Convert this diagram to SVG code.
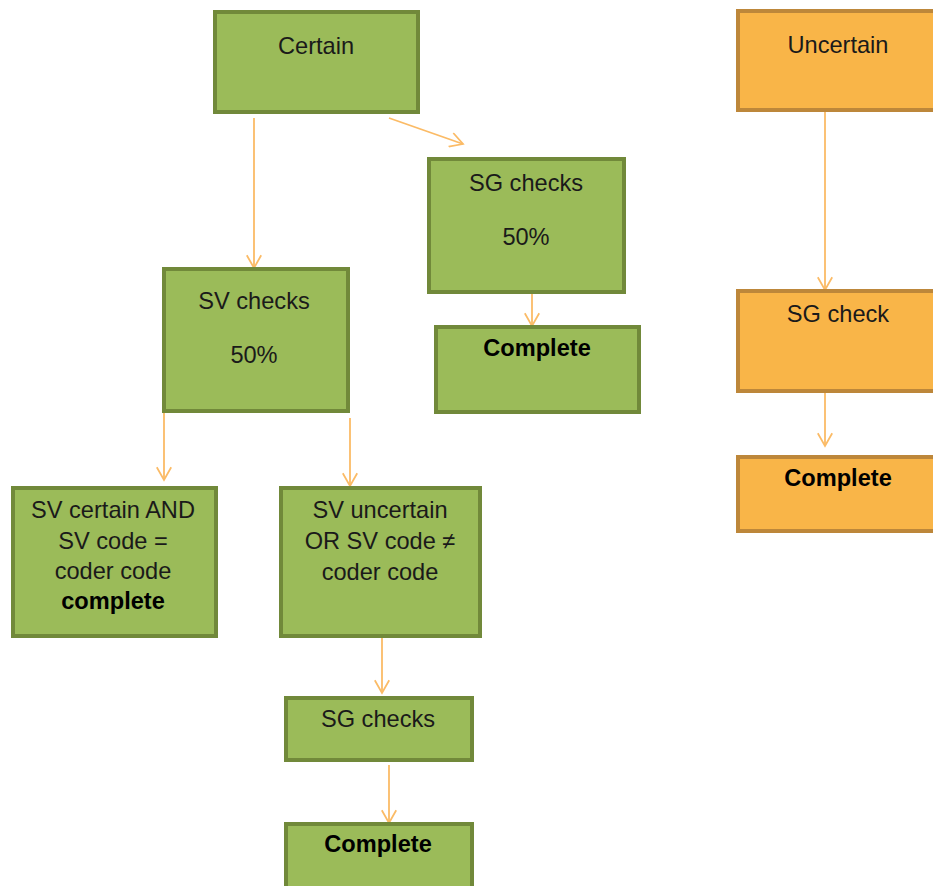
<svg xmlns="http://www.w3.org/2000/svg" width="933" height="886" viewBox="0 0 933 886">
<defs>
<style>
.g{fill:#9BBB59;stroke:#71893A;stroke-width:4}
.o{fill:#F9B548;stroke:#BD873A;stroke-width:4}
text{font-family:"Liberation Sans",Arial,sans-serif;font-size:23.6px;fill:#1a1a1a;text-anchor:middle}
.b{font-weight:bold;fill:#000}
.c{stroke:#FBBB66;stroke-width:1.8;fill:none;marker-end:url(#ah)}
</style>
<marker id="ah" viewBox="0 0 20 20" refX="18" refY="10" markerWidth="16" markerHeight="16" markerUnits="userSpaceOnUse" orient="auto">
<path d="M2,1 L18,10 L2,19" fill="none" stroke="#FBBB66" stroke-width="2.2"/>
</marker>
</defs>
<rect width="933" height="886" fill="#fff"/>
<g id="connectors">
<line class="c" x1="254" y1="118" x2="254" y2="268"/>
<line class="c" x1="389" y1="118" x2="463" y2="144"/>
<line class="c" x1="532" y1="293" x2="532" y2="326"/>
<line class="c" x1="164" y1="412" x2="164" y2="480"/>
<line class="c" x1="350" y1="418" x2="350" y2="486"/>
<line class="c" x1="382" y1="637" x2="382" y2="693"/>
<line class="c" x1="389" y1="765" x2="389" y2="823"/>
<line class="c" x1="825" y1="112" x2="825" y2="290"/>
<line class="c" x1="825" y1="392" x2="825" y2="446"/>
</g>
<g id="certain"><rect class="g" x="215" y="12" width="203" height="100"/><text x="316" y="54">Certain</text></g>
<g id="uncertain"><rect class="o" x="738" y="11" width="200" height="99"/><text x="838" y="53">Uncertain</text></g>
<g id="sg50"><rect class="g" x="429" y="159" width="195" height="133"/><text x="526" y="191">SG checks</text><text x="526" y="245">50%</text></g>
<g id="complete1"><rect class="g" x="436" y="327" width="203" height="85"/><text class="b" x="537" y="356">Complete</text></g>
<g id="sv50"><rect class="g" x="164" y="269" width="184" height="142"/><text x="254" y="309">SV checks</text><text x="254" y="363">50%</text></g>
<g id="svcertain"><rect class="g" x="13" y="488" width="203" height="148"/><text x="113" y="518">SV certain AND</text><text x="113" y="549">SV code =</text><text x="113" y="579">coder code</text><text class="b" x="113" y="609">complete</text></g>
<g id="svuncertain"><rect class="g" x="281" y="488" width="199" height="148"/><text x="380" y="518">SV uncertain</text><text x="380" y="549">OR SV code ≠</text><text x="380" y="580">coder code</text></g>
<g id="sg2"><rect class="g" x="286" y="698" width="186" height="62"/><text x="378" y="727">SG checks</text></g>
<g id="complete2"><rect class="g" x="286" y="824" width="186" height="66"/><text class="b" x="378" y="852">Complete</text></g>
<g id="sgcheck"><rect class="o" x="738" y="291" width="200" height="100"/><text x="838" y="322">SG check</text></g>
<g id="complete3"><rect class="o" x="738" y="457" width="200" height="74"/><text class="b" x="838" y="486">Complete</text></g>
</svg>
